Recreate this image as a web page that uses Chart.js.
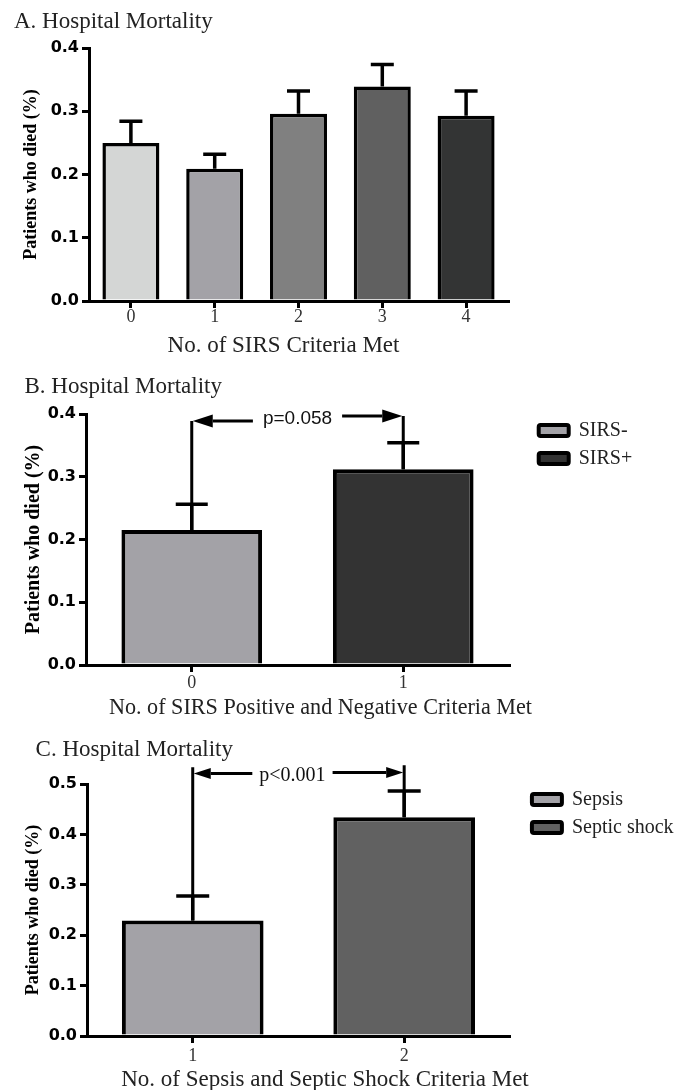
<!DOCTYPE html>
<html><head><meta charset="utf-8">
<script src="https://cdn.jsdelivr.net/npm/chart.js@4.4.1/dist/chart.umd.min.js"></script>
<style>
html,body{margin:0;padding:0;background:#fff;width:695px;height:1090px;overflow:hidden;}
canvas{position:absolute;left:0;display:block;}
#ca{top:0}
#cb{top:360px}
#cc{top:720px}
</style></head><body>
<canvas id="ca" width="695" height="360"></canvas>
<canvas id="cb" width="695" height="360"></canvas>
<canvas id="cc" width="695" height="370"></canvas>
<script>
// ---------- data ----------
const titleA = 'A. Hospital Mortality';
const catsA = ['0', '1', '2', '3', '4'];
const meanA = [0.250, 0.209, 0.296, 0.339, 0.293];
const errA = [0.034, 0.023, 0.036, 0.035, 0.039];
const colorsA = ['#d4d6d5', '#a3a2a7', '#808080', '#606060', '#333434'];
const yTicksA = ['0.0', '0.1', '0.2', '0.3', '0.4'];
const xTitleA = 'No. of SIRS Criteria Met';

const titleB = 'B. Hospital Mortality';
const catsB = ['0', '1'];
const meanB = [0.215, 0.312];
const errB = [0.041, 0.042];
const colorsB = ['#a3a2a7', '#333333'];
const legendB = ['SIRS-', 'SIRS+'];
const yTicksB = ['0.0', '0.1', '0.2', '0.3', '0.4'];
const xTitleB = 'No. of SIRS Positive and Negative Criteria Met';
const sigB = {text: 'p=0.058', from: 0, to: 1, leftY: 0.389, rightY: 0.397, leftTop: 0.389, rightTop: 0.397};

const titleC = 'C. Hospital Mortality';
const catsC = ['1', '2'];
const meanC = [0.229, 0.434];
const errC = [0.049, 0.052];
const colorsC = ['#a3a2a7', '#616161'];
const legendC = ['Sepsis', 'Septic shock'];
const yTicksC = ['0.0', '0.1', '0.2', '0.3', '0.4', '0.5'];
const xTitleC = 'No. of Sepsis and Septic Shock Criteria Met';
const sigC = {text: 'p<0.001', from: 0, to: 1, leftY: 0.521, rightY: 0.523, leftTop: 0.533, rightTop: 0.537};

const yTitle = 'Patients who died (%)';

// ---------- plugins ----------
const errPlugin = {
  id: 'errbars',
  afterDatasetsDraw(chart, args, o) {
    if (!o.errors) return;
    const ctx = chart.ctx, y = chart.scales.y;
    const meta = chart.getDatasetMeta(0);
    const vals = chart.data.datasets[0].data;
    ctx.save();
    ctx.strokeStyle = '#000'; ctx.lineWidth = o.lineWidth; ctx.lineCap = 'butt';
    meta.data.forEach((bar, i) => {
      const top = y.getPixelForValue(vals[i] + o.errors[i]);
      const base = y.getPixelForValue(vals[i]);
      ctx.beginPath();
      ctx.moveTo(bar.x, base); ctx.lineTo(bar.x, top);
      ctx.moveTo(bar.x - o.cap / 2, top); ctx.lineTo(bar.x + o.cap / 2, top);
      ctx.stroke();
    });
    ctx.restore();
  }
};

function arrow(ctx, x0, yy, x1, len, hw) {
  const dir = Math.sign(x1 - x0);
  ctx.beginPath(); ctx.moveTo(x0, yy); ctx.lineTo(x1 - dir * len, yy); ctx.stroke();
  ctx.beginPath(); ctx.moveTo(x1, yy); ctx.lineTo(x1 - dir * len, yy - hw); ctx.lineTo(x1 - dir * len, yy + hw);
  ctx.closePath(); ctx.fill();
}

const sigPlugin = {
  id: 'sig',
  afterDraw(chart, args, o) {
    if (!o.sig) return;
    const s = o.sig;
    const ctx = chart.ctx, y = chart.scales.y;
    const meta = chart.getDatasetMeta(0);
    const vals = chart.data.datasets[0].data;
    const xl = meta.data[s.from].x, xr = meta.data[s.to].x;
    const yl = y.getPixelForValue(s.leftY), yr = y.getPixelForValue(s.rightY);
    ctx.save();
    ctx.lineWidth = o.lineWidth; ctx.strokeStyle = '#000'; ctx.fillStyle = '#000';
    ctx.beginPath();
    ctx.moveTo(xl, y.getPixelForValue(s.leftTop)); ctx.lineTo(xl, y.getPixelForValue(vals[s.from]));
    ctx.moveTo(xr, y.getPixelForValue(s.rightTop)); ctx.lineTo(xr, y.getPixelForValue(vals[s.to]));
    ctx.stroke();
    ctx.font = o.font;
    const tw = ctx.measureText(s.text).width;
    const cx = (xl + xr) / 2 + o.textDx;
    const ty = (yl + yr) / 2 + o.textDy;
    ctx.fillStyle = o.color; ctx.textAlign = 'center'; ctx.textBaseline = 'middle';
    ctx.fillText(s.text, cx, ty);
    ctx.fillStyle = '#000';
    arrow(ctx, cx - tw / 2 - o.gap, yl, xl + 1, o.head, o.headW);
    arrow(ctx, cx + tw / 2 + o.gap, yr, xr - 1, o.head, o.headW);
    ctx.restore();
  }
};

const tweakPlugin = {
  id: 'tweak',
  afterLayout(chart, args, o) {
    const L = chart.legend;
    if (o.legendDx && L) {
      L.left += o.legendDx; L.right += o.legendDx;
      const h = L.bottom - L.top;
      L.top = chart.chartArea.top + o.legendDy;
      L.bottom = L.top + h;
    }
    const s = chart.scales.x;
    if (o.xTitleDx && s && !s.__shifted) {
      const orig = s.drawTitle;
      s.drawTitle = function () {
        const c = this.ctx; c.save(); c.translate(o.xTitleDx, 0); orig.call(this); c.restore();
      };
      s.__shifted = true;
    }
  }
};

// ---------- builder ----------
function makeChart(c) {
  const pad = {left: c.titleX, right: c.legend ? 695 - c.plot.right - 150 : 695 - c.plot.right, top: 0, bottom: 0};
  const chart = new Chart(document.getElementById(c.id), {
    type: 'bar',
    data: {
      labels: c.cats,
      datasets: [{
        data: c.means, backgroundColor: c.colors, borderColor: '#000', borderWidth: c.bw,
        categoryPercentage: 1, barPercentage: c.bp
      }]
    },
    options: {
      responsive: false, animation: false, events: [],
      layout: {padding: pad},
      scales: {
        x: {
          z: 1,
          ticks: {color: '#333', padding: c.xTickPad, font: {family: '"Liberation Serif"', size: 18, lineHeight: 1}},
          grid: {display: true, offset: false, drawOnChartArea: false, drawTicks: true, tickLength: 7, lineWidth: 3, color: '#000'},
          border: {display: true, color: '#000', width: 3},
          title: {display: true, text: c.xTitle, color: '#222', font: {family: '"Liberation Serif"', size: 23, lineHeight: 1}, padding: {top: 0, bottom: c.xTitlePadB}},
          afterFit: s => { s.height = c.canvasH - c.plot.bottom; }
        },
        y: {
          z: 1,
          min: parseFloat(c.yTicks[0]), max: parseFloat(c.yTicks[c.yTicks.length - 1]),
          ticks: {stepSize: 0.1, color: '#000', padding: 3, font: {family: '"DejaVu Sans"', size: 16, weight: 'bold', lineHeight: 1},
            callback: (v, i) => c.yTicks[i]},
          grid: {display: true, drawOnChartArea: false, drawTicks: true, tickLength: 7, lineWidth: 3, color: '#000'},
          border: {display: true, color: '#000', width: 3},
          title: {display: true, text: yTitle, color: '#000', font: {family: '"Liberation Serif"', size: c.yTitleSize, weight: 'bold', lineHeight: 1},
            padding: {top: c.yTitleX - c.titleX - c.yTitleSize / 2, bottom: 0}},
          afterFit: s => { s.width = c.plot.left - c.titleX; }
        }
      },
      plugins: {
        title: {display: true, text: c.title, align: 'start', color: '#222',
          font: {family: '"Liberation Serif"', size: 23, weight: 'normal', lineHeight: 1},
          padding: {top: c.titleY - 11.5, bottom: c.plot.top - c.titleY - 11.5}},
        legend: {
          display: !!c.legend, position: 'right', align: 'start',
          labels: {
            boxWidth: 30, boxHeight: 11, padding: 8, color: '#222',
            font: {family: '"Liberation Serif"', size: 20, lineHeight: 1},
            generateLabels: () => (c.legend || []).map((t, i) => ({
              text: t, fillStyle: c.colors[i], strokeStyle: '#000', lineWidth: c.bw,
              borderRadius: 2, hidden: false, index: i, datasetIndex: 0, fontColor: '#222'
            }))
          }
        },
        tooltip: {enabled: false},
        errbars: {errors: c.errs, cap: c.cap, lineWidth: 3.5},
        sig: c.sig ? Object.assign({sig: c.sig}, c.sigStyle) : {},
        tweak: {legendDx: c.legendDx || 0, legendDy: c.legendDy || 0, xTitleDx: c.xTitleDx || 0}
      }
    },
    plugins: [errPlugin, sigPlugin, tweakPlugin]
  });
  for (let k = 0; k < 3; k++) {
    const diff = c.plot.right - chart.chartArea.right;
    if (Math.abs(diff) < 0.2) break;
    chart.options.layout.padding.right = chart.options.layout.padding.right - diff;
    chart.update('none');
  }
  return chart;
}

makeChart({
  id: 'ca', canvasH: 360, title: titleA, cats: catsA, means: meanA, errs: errA, colors: colorsA,
  yTicks: yTicksA, xTitle: xTitleA, titleX: 14, titleY: 22,
  plot: {left: 89, right: 508, top: 48, bottom: 301},
  yTitleX: 31, yTitleSize: 18, xTickPad: 0, xTitlePadB: 2.5, xTitleDx: -15, bp: 0.68, bw: 3.5, cap: 23
});
makeChart({
  id: 'cb', canvasH: 360, title: titleB, cats: catsB, means: meanB, errs: errB, colors: colorsB, legend: legendB,
  yTicks: yTicksB, xTitle: xTitleB, titleX: 24.5, titleY: 26.7,
  plot: {left: 86, right: 509, top: 54, bottom: 305},
  yTitleX: 34, yTitleSize: 20, xTickPad: 2, xTitlePadB: 0.5, xTitleDx: 23, bp: 0.665, bw: 4, cap: 32,
  legendDx: 21.7, legendDy: -1.5,
  sig: sigB, sigStyle: {font: '19px "Liberation Sans"', color: '#111', lineWidth: 3, gap: 10, head: 20, headW: 6.5, textDx: 0, textDy: 0}
});
makeChart({
  id: 'cc', canvasH: 370, title: titleC, cats: catsC, means: meanC, errs: errC, colors: colorsC, legend: legendC,
  yTicks: yTicksC, xTitle: xTitleC, titleX: 35.6, titleY: 30,
  plot: {left: 87, right: 510, top: 64, bottom: 316},
  yTitleX: 33, yTitleSize: 18, xTickPad: 4.7, xTitlePadB: -1.5, xTitleDx: 26.5, bp: 0.67, bw: 4, cap: 33,
  legendDx: 14, legendDy: -2.5,
  sig: sigC, sigStyle: {font: '20px "Liberation Serif"', color: '#111', lineWidth: 3, gap: 7, head: 17, headW: 5.5, textDx: -6, textDy: 3}
});
</script>
</body></html>
